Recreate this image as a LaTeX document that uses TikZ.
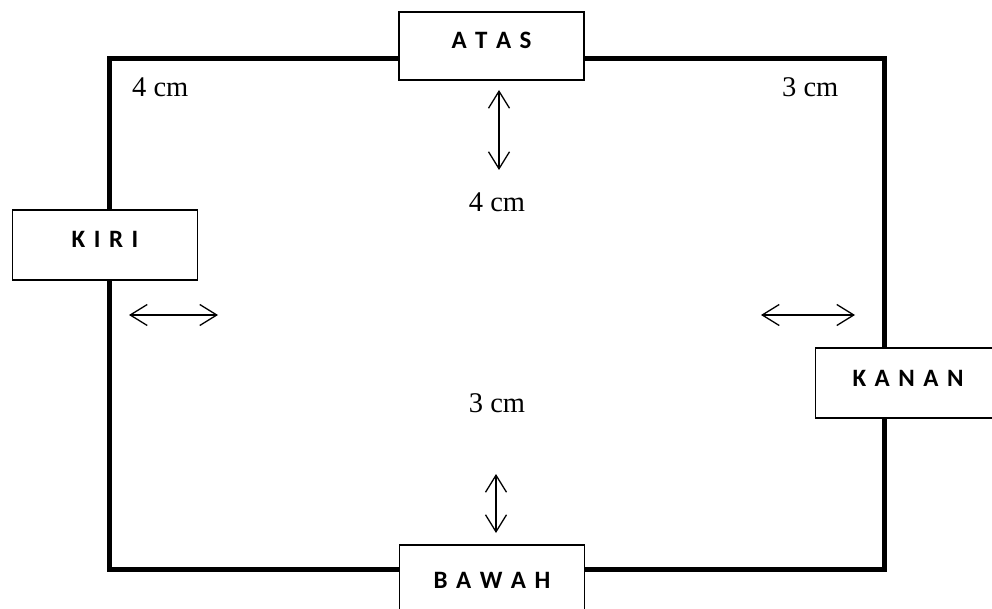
\documentclass[tikz,border=0pt]{standalone}
\usepackage{fontspec}
\setmainfont{Liberation Serif}
\newfontfamily\boxfont{Carlito}
\usetikzlibrary{arrows.meta}
\newcommand\lsp{\hspace{8.5pt}}
\tikzset{
  frame/.style={line width=5pt, line join=miter},
  sidebox/.style={draw=black, line width=1.4pt, fill=white, inner sep=0pt,
    minimum width=185pt, text height=16pt, text depth=10pt,
    font=\fontsize{25}{30}\boxfont\bfseries\selectfont},
  measure/.style={font=\fontsize{28.5}{34}\selectfont, inner sep=0pt},
  dimarrow/.style={line width=1.3pt, {Straight Barb[length=17pt,width=21pt,line width=1.3pt]}-{Straight Barb[length=17pt,width=21pt,line width=1.3pt]}}
}
\begin{document}
\begin{tikzpicture}[x=1pt,y=-1pt]
\useasboundingbox (0,0) rectangle (992,609);
\fill[white] (0,0) rectangle (992,609);
% main frame
\draw[frame] (109,58.5) rectangle (884.5,569);
% boxes
\node[sidebox, minimum height=68pt] (atas) at (491.5,46) {A\lsp T\lsp A\lsp S};
\node[sidebox, minimum height=70pt] (kiri) at (105,245) {K\lsp I\lsp R\lsp I};
\node[sidebox, minimum height=70pt] (kanan) at (908,383) {K\lsp A\lsp N\lsp A\lsp N};
\node[sidebox, minimum height=80pt] (bawah) at (492,585) {B\lsp A\lsp W\lsp A\lsp H};
% measurement labels
\node[measure, anchor=base west] (tl) at (132,97) {4 cm};
\node[measure, anchor=base west] (tr) at (782,97) {3 cm};
\node[measure, anchor=base] (mt) at (497,212) {4 cm};
\node[measure, anchor=base] (mb) at (497,412) {3 cm};
% arrow end points
\coordinate (t1) at (499,90);
\coordinate (t2) at (499,170);
\coordinate (b1) at (496,474);
\coordinate (b2) at (496,533);
\coordinate (l1) at (129,315);
\coordinate (l2) at (218,315);
\coordinate (r1) at (761,315);
\coordinate (r2) at (855,315);
\draw[dimarrow] (t1) -- (t2);
\draw[dimarrow] (b1) -- (b2);
\draw[dimarrow] (l1) -- (l2);
\draw[dimarrow] (r1) -- (r2);
\end{tikzpicture}
\end{document}
